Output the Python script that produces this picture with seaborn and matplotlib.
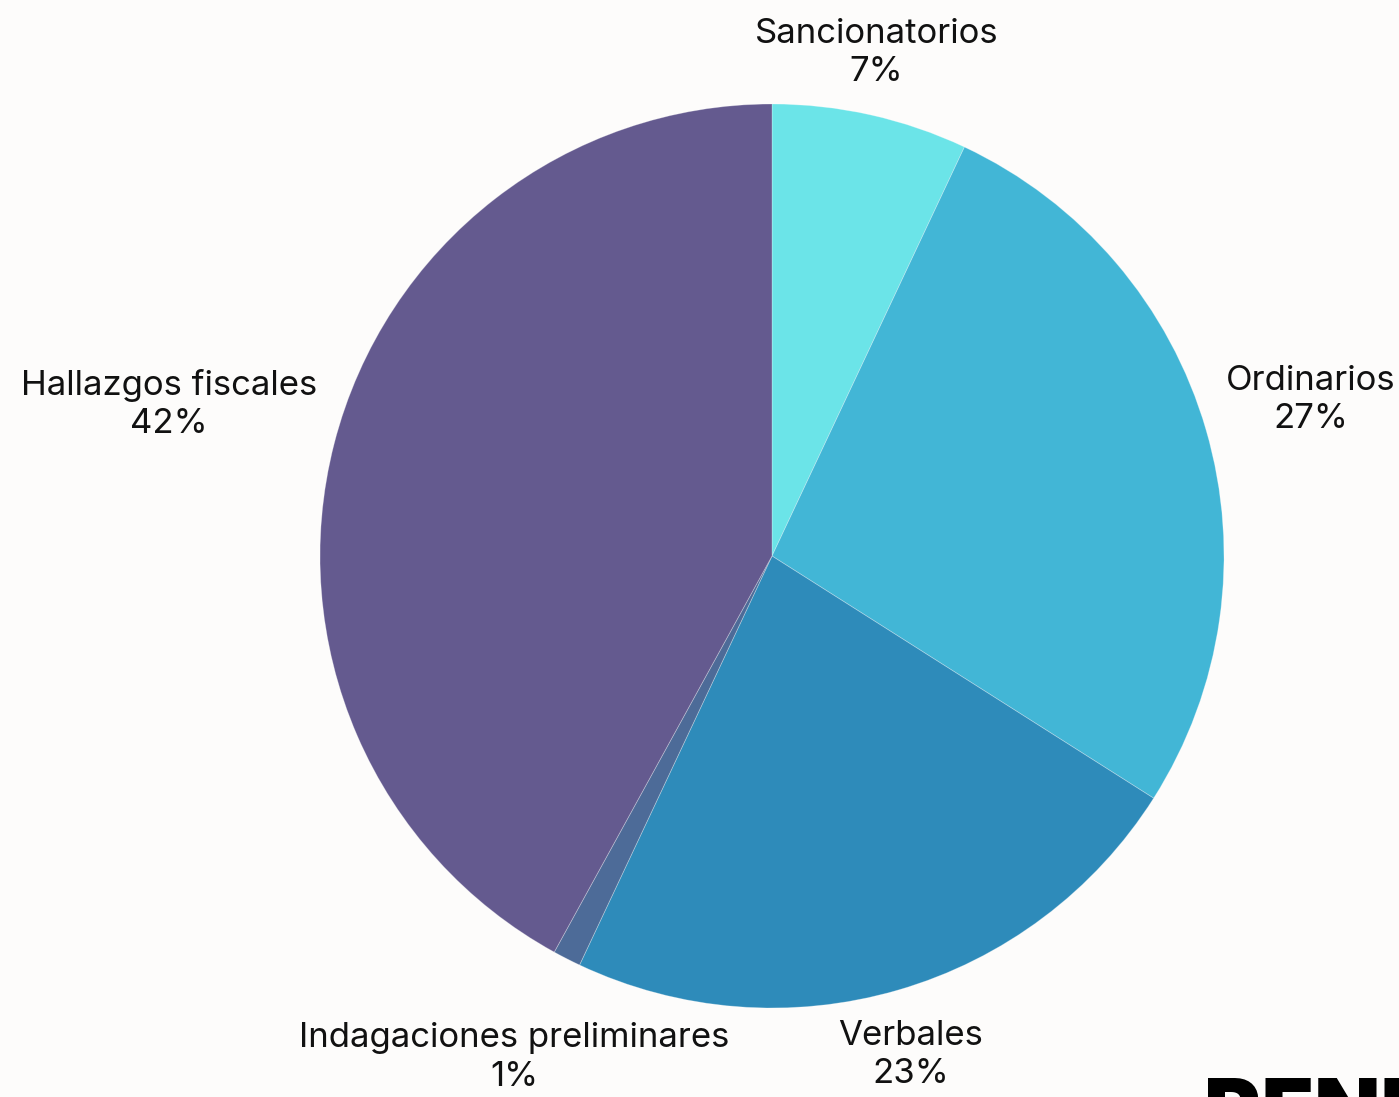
import matplotlib
matplotlib.use("Agg")
import matplotlib.pyplot as plt
import matplotlib.transforms as mtransforms
import seaborn as sns
import numpy as np

categories = ["Sancionatorios", "Ordinarios", "Verbales", "Indagaciones preliminares", "Hallazgos fiscales"]
values = [7, 27, 23, 1, 42]
colors = ["#6be4e8", "#42b6d6", "#2e8bba", "#4d6b98", "#645a8f"]

sns.set_theme(style="white")
plt.rcParams['font.family'] = ['Inter', 'DejaVu Sans']

BG = "#fdfcfb"
fig = plt.figure(figsize=(13.99, 10.97), dpi=100, facecolor=BG)
ax = fig.add_axes([320/1399, 89/1097, 904/1399, 904/1097])
ax.set_facecolor(BG)

pal = sns.color_palette(colors)
labels = [f"{c}\n{v}%" for c, v in zip(categories, values)]
wedges, texts = ax.pie(values, labels=labels, colors=pal, startangle=90, counterclock=False,
                       radius=1.0, labeldistance=1.05,
                       wedgeprops=dict(linewidth=0.6, edgecolor=(1, 1, 1, 0.3)),
                       textprops=dict(fontsize=25, color="#111111", multialignment="center"))

# label placement: (distance, ha, va, dx_px, dy_px)
place = [(1.06, "center", "bottom", 0, 0),
         (1.046, "left", "center", 0, 24),
         (1.069, "center", "top", 4, 0),
         (1.158, "center", "top", -20, 0),
         (1.039, "right", "center", 0, 35)]
for w, t, (d, ha, va, dx, dy) in zip(wedges, texts, place):
    ang = np.deg2rad((w.theta1 + w.theta2) / 2)
    t.set_position((d * np.cos(ang), d * np.sin(ang)))
    t.set_ha(ha)
    t.set_va(va)
    t.set_transform(ax.transData + mtransforms.ScaledTranslation(dx / 100, dy / 100, fig.dpi_scale_trans))
    t.set_linespacing(1.25)
    t.set_clip_on(False)

ax.set_xlim(-1, 1)
ax.set_ylim(-1, 1)
ax.set_aspect("equal")
ax.axis("off")

fig.text(1204/1399, -0.04, "RENDICIÓN", fontsize=62, fontweight="black", color="#000000",
         ha="left", va="baseline", family=["Inter", "DejaVu Sans"])

fig.savefig("out.png", dpi=100, facecolor=BG)
